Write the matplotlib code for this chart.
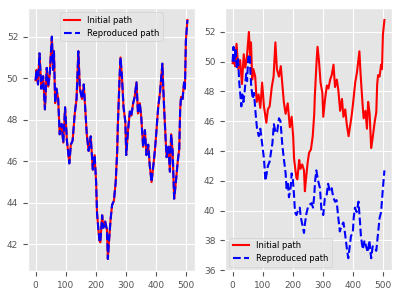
import matplotlib
matplotlib.use('Agg')
import matplotlib.pyplot as plt

# initial path
t_init = [0, 3, 8, 13, 19, 25, 31, 37, 42, 47, 54, 58, 61, 65, 69, 75, 80, 86, 92, 98,
          104, 112, 117, 123, 130, 136, 142, 147, 154, 160, 165, 170, 176, 183, 190, 196,
          201, 204, 208, 212, 215, 221, 225, 231, 237, 240, 243, 249, 254, 260, 266, 271,
          273, 279, 282, 287, 292, 298, 301, 307, 313, 318, 324, 329, 335, 340, 346, 351,
          357, 363, 368, 374, 379, 385, 391, 396, 402, 407, 413, 421, 424, 427, 432, 435,
          441, 446, 450, 455, 460, 463, 467, 472, 477, 480, 483, 488, 493, 496, 499, 504]
v_init = [49.9, 50.4, 49.7, 51.2, 49.5, 50.1, 48.5, 50.5, 49.6, 50.2, 52.0, 50.4, 51.3, 48.8,
          49.5, 49.0, 47.3, 47.8, 46.9, 48.6, 47.0, 45.9, 46.8, 47.0, 48.3, 49.0, 51.3, 49.5,
          49.0, 49.7, 48.5, 47.3, 46.5, 47.2, 45.6, 46.3, 45.0, 43.5, 42.8, 42.2, 42.1, 43.4,
          42.8, 43.1, 42.7, 41.3, 42.0, 43.2, 43.9, 44.1, 45.0, 46.5, 47.7, 50.1, 51.0, 50.0,
          48.6, 47.9, 46.3, 47.5, 48.4, 48.2, 48.8, 49.1, 49.8, 48.3, 48.8, 48.1, 46.7, 47.5,
          46.3, 46.8, 45.8, 45.0, 45.8, 46.5, 47.6, 48.6, 49.3, 50.7, 49.5, 48.5, 47.0, 46.2,
          46.7, 45.5, 47.3, 46.5, 44.2, 44.6, 45.2, 46.0, 46.6, 48.5, 49.1, 49.0, 49.8, 49.5,
          51.8, 52.8]

# reproduced path of the right panel
t_repr = [0, 3, 6, 10, 14, 18, 22, 26, 29, 32, 36, 40, 45, 48, 52, 57, 59, 62, 67, 71, 76,
          81, 87, 92, 98, 104, 109, 113, 117, 123, 128, 132, 137, 143, 148, 154, 159, 165,
          170, 176, 179, 184, 187, 193, 196, 200, 204, 207, 212, 217, 223, 226, 232, 237,
          240, 245, 251, 256, 262, 267, 271, 274, 278, 284, 290, 295, 301, 306, 312, 317,
          323, 329, 334, 340, 345, 351, 356, 362, 368, 373, 379, 384, 387, 393, 399, 402,
          406, 412, 418, 423, 426, 432, 438, 443, 449, 454, 460, 465, 471, 477, 482, 488,
          493, 499, 504]
v_repr = [50.0, 51.0, 50.0, 50.9, 49.5, 50.3, 48.6, 47.7, 47.0, 47.8, 47.3, 48.0, 49.2, 48.7,
          50.3, 50.5, 49.3, 48.3, 47.5, 47.9, 46.6, 45.5, 45.0, 45.5, 44.5, 43.5, 42.0, 42.5,
          43.0, 43.3, 44.0, 44.5, 45.8, 45.2, 45.3, 46.2, 46.0, 44.4, 43.5, 42.5, 41.5, 41.8,
          40.9, 41.6, 42.5, 42.1, 41.0, 39.9, 39.7, 40.0, 40.2, 39.6, 39.0, 38.5, 39.1, 39.8,
          40.3, 40.4, 40.5, 40.2, 41.0, 42.0, 42.7, 42.0, 41.5, 40.0, 39.7, 40.8, 41.0, 41.8,
          41.3, 41.5, 40.9, 40.6, 40.7, 39.5, 38.6, 39.0, 39.2, 38.5, 37.5, 36.8, 37.3, 38.3,
          38.5, 39.5, 40.2, 39.9, 40.6, 39.2, 38.3, 37.4, 38.0, 37.6, 37.2, 38.0, 36.8, 37.6,
          37.5, 37.3, 38.3, 39.5, 39.9, 41.5, 42.7]

plt.style.use('ggplot')
plt.rcParams['font.size'] = 6.5

fig, (ax1, ax2) = plt.subplots(1, 2, figsize=(4, 3), dpi=100)

ax1.plot(t_init, v_init, color='red', lw=1.5, label='Initial path')
ax1.plot(t_init, v_init, color='blue', lw=1.5, ls='--', label='Reproduced path')
ax1.legend(loc='upper center', fontsize=6)

ax2.plot(t_init, v_init, color='red', lw=1.5, label='Initial path')
ax2.plot(t_repr, v_repr, color='blue', lw=1.5, ls='--', label='Reproduced path')
ax2.legend(loc='lower left', fontsize=6)
ax2.set_ylim(35.95, 53.6)

for ax in (ax1, ax2):
    ax.tick_params(labelsize=6.5)
    ax.set_xticks([0, 100, 200, 300, 400, 500])

fig.subplots_adjust(left=0.07, right=0.98, top=0.973, bottom=0.097, wspace=0.18)
fig.savefig('out.png', dpi=100)
